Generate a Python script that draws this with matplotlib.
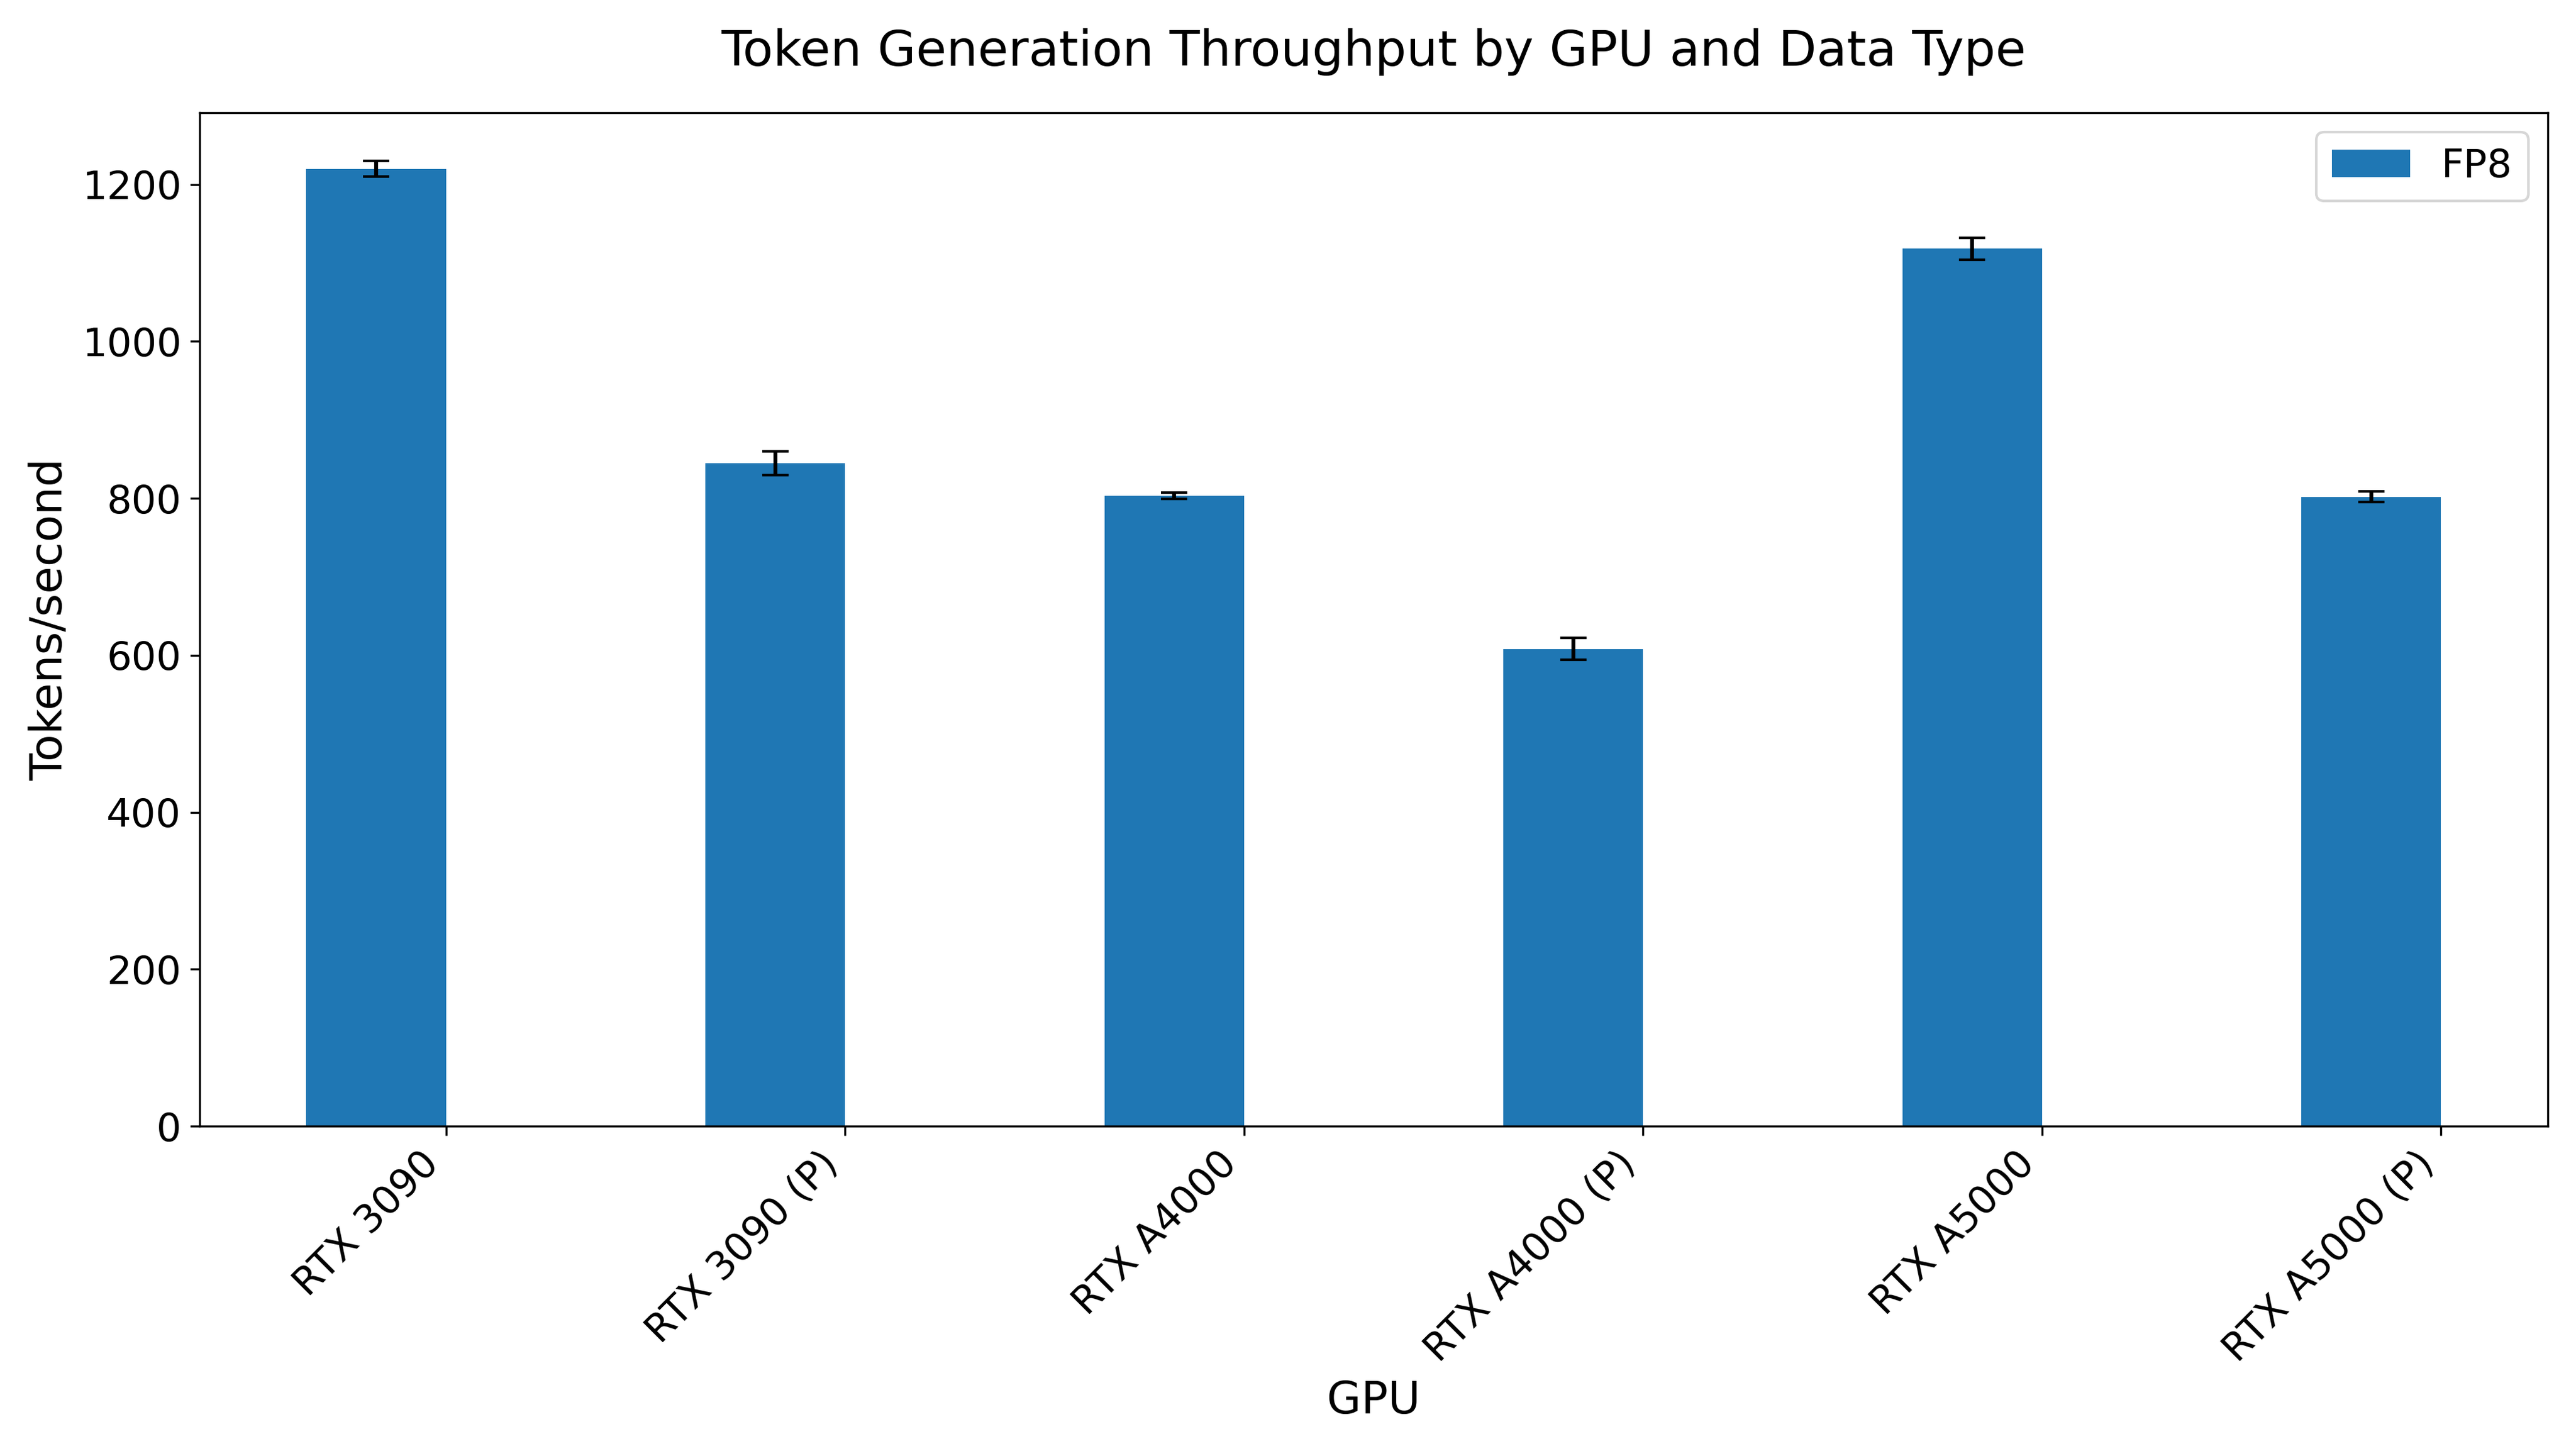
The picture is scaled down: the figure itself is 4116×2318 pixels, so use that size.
import matplotlib
matplotlib.use("Agg")
import matplotlib.pyplot as plt
import numpy as np

gpus = ["RTX 3090", "RTX 3090 (P)", "RTX A4000", "RTX A4000 (P)", "RTX A5000", "RTX A5000 (P)"]
fp8 = [1220, 845, 803, 608, 1118, 802]
fp8_err = [10, 15, 4, 14, 14, 7]

fig, ax = plt.subplots(figsize=(13.72, 7.727), dpi=300)
x = np.arange(len(gpus))
w = 0.35
ax.bar(x - w/2, fp8, w, yerr=fp8_err, capsize=5, color="#1f77b4", label="FP8")
ax.set_xticks(x)
ax.set_xticklabels(gpus, rotation=45, ha="right", fontsize=15)
ax.tick_params(axis="y", labelsize=15)
ax.set_xlabel("GPU", fontsize=17)
ax.set_ylabel("Tokens/second", fontsize=17)
ax.set_title("Token Generation Throughput by GPU and Data Type", fontsize=19, pad=18)
ax.legend(fontsize=15)
fig.tight_layout()
fig.savefig("out.png", dpi=300)
